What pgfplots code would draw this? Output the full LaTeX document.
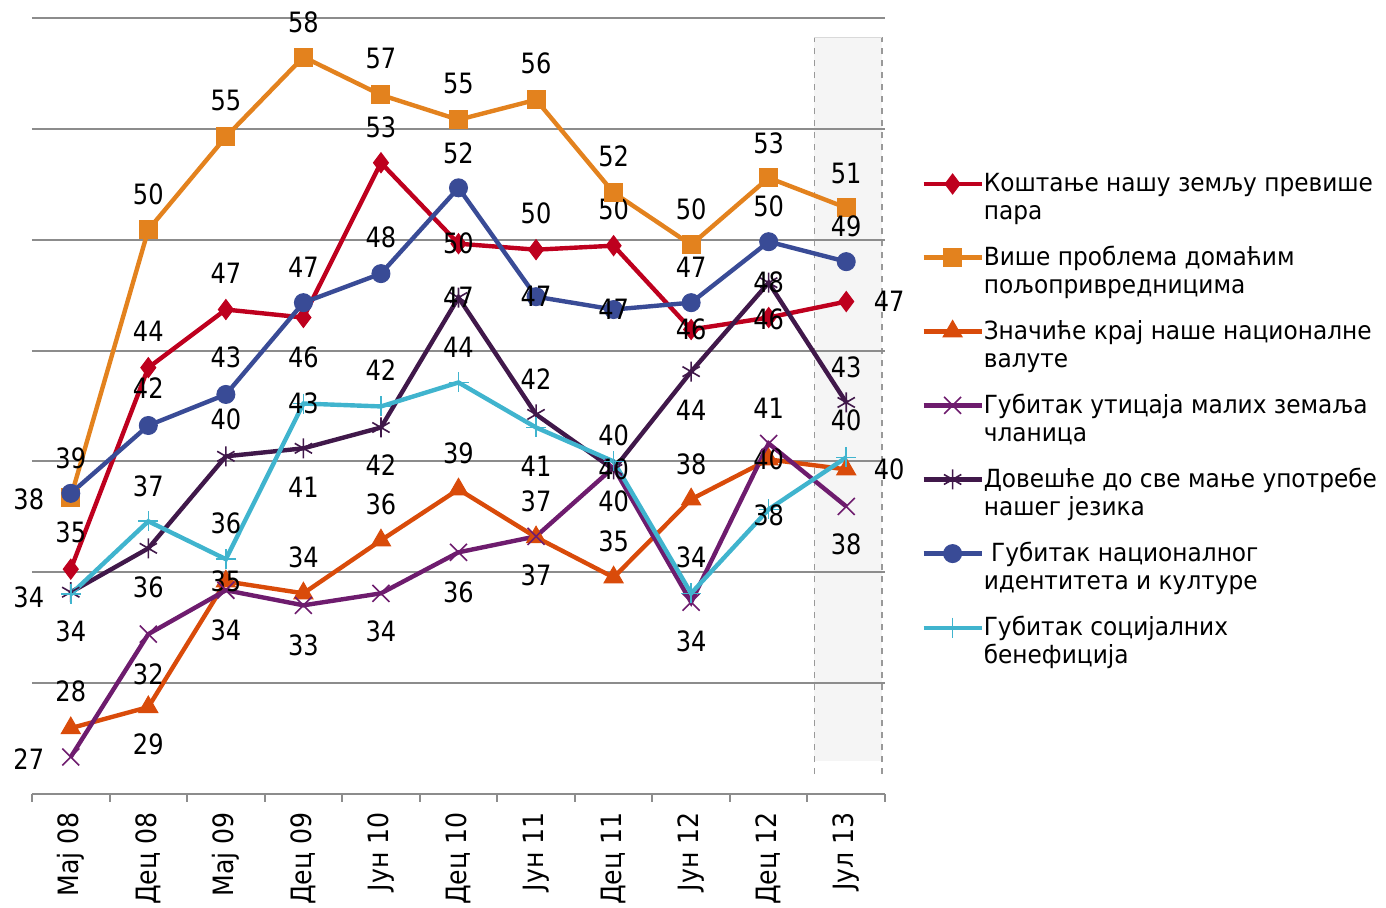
\documentclass[border=0pt]{standalone}
\usepackage{fontspec}
\setmainfont{DejaVu Sans}
\newfontfamily\labfont[FakeStretch=0.86]{DejaVu Sans}
\newfontfamily\tickfont[FakeStretch=0.9]{DejaVu Sans}
\newfontfamily\legfont[FakeStretch=0.93]{DejaVu Sans}
\usepackage{pgfplots}
\pgfplotsset{compat=1.18}

\definecolor{cRed}{RGB}{190,0,30}
\definecolor{cOrange}{RGB}{227,130,30}
\definecolor{cOrRed}{RGB}{217,75,10}
\definecolor{cPurple}{RGB}{110,28,110}
\definecolor{cDark}{RGB}{64,24,74}
\definecolor{cBlue}{RGB}{57,75,150}
\definecolor{cCyan}{RGB}{64,180,206}
\definecolor{gridc}{RGB}{140,140,140}

\begin{document}
\begin{tikzpicture}
\begin{axis}[
    set layers,
    scale only axis,
    width=426.5pt, height=388pt,
    xmin=-0.5, xmax=10.5,
    ymin=25, ymax=60,
    clip=false,
    axis x line*=bottom,
    axis y line*=left,
    y axis line style={draw=none},
    x axis line style={draw=gridc, line width=1pt},
    ytick={30,35,...,60},
    yticklabels={},
    ytick style={draw=none},
    ymajorgrids=true,
    grid style={draw=gridc, line width=1pt},
    xtick={0,...,10},
    xticklabels={Мај 08,Дец 08,Мај 09,Дец 09,Јун 10,Дец 10,Јун 11,Дец 11,Јун 12,Дец 12,Јул 13},
    minor xtick={-0.5,0.5,...,10.5},
    tick align=outside,
    major tick length=0pt,
    minor tick length=4pt,
    minor x tick style={draw=gridc, line width=1pt},
    xticklabel style={rotate=90, anchor=east, inner sep=0pt,
        font=\tickfont\fontsize{14}{16}\selectfont},
    xticklabel shift=9pt,
    every axis plot/.append style={line width=2.2pt},
    point meta=explicit symbolic,
    nodes near coords,
    visualization depends on={value \thisrow{dx}\as\dx},
    visualization depends on={value \thisrow{dy}\as\dy},
    nodes near coords style={font=\labfont\fontsize{14}{16}\selectfont,
        text=black, anchor=center, inner sep=0pt,
        xshift=\dx pt, yshift=\dy pt},
    legend style={draw=none, fill=none, inner sep=0pt,
        at={(axis description cs:1,1)}, anchor=north west,
        xshift=18pt, yshift=-75.5pt,
        font=\legfont\fontsize{12.5}{14}\selectfont,
        cells={align=left}, row sep=7.85pt, column sep=-2pt},
    legend cell align=left,
    legend image code/.code={
        \draw[mark repeat=2, mark phase=2]
        plot coordinates {(1pt,7pt) (15.5pt,7pt) (30pt,7pt)};},
]

\begin{pgfonlayer}{axis background}
\fill[gray!8] (axis cs:9.59,26.5) rectangle (axis cs:10.46,59.14);
\draw[gray!80, dashed, line width=0.8pt] (axis cs:9.59,25.9) -- (axis cs:9.59,59.14);
\draw[gray!80, dashed, line width=0.8pt] (axis cs:10.46,25.9) -- (axis cs:10.46,59.14);
\draw[gray!30, line width=0.5pt] (axis cs:9.59,59.14) -- (axis cs:10.46,59.14);
\end{pgfonlayer}

% Коштање нашу земљу превише пара
\addplot[color=cRed, mark=diamond*, mark size=5pt, mark options={solid, fill=cRed, line width=0.5pt}]
table[meta=l] {
x y l dx dy
0 35.14 35 0 18.5
1 44.23 44 0 18
2 46.85 47 0 18
3 46.49 46 0 -20
4 53.47 53 0 17.5
5 49.82 50 0 0
6 49.55 50 0 18
7 49.73 50 0 18
8 45.95 46 0 0
9 46.49 46 0 -1
10 47.21 47 21.5 0
};
\addlegendentry{Коштање нашу земљу превише\\пара}

% Више проблема домаћим пољопривредницима
\addplot[color=cOrange, mark=square*, mark size=4.5pt, mark options={solid, fill=cOrange, line width=0.5pt}]
table[meta=l] {
x y l dx dy
0 38.38 38 -21 -1
1 50.45 50 0 17.5
2 54.64 55 0 18
3 58.24 58 0 17.5
4 56.53 57 0 18
5 55.41 55 0 18
6 56.31 56 0 18
7 52.12 52 0 18
8 49.77 50 0 17.5
9 52.79 53 0 17.5
10 51.44 51 0 17
};
\addlegendentry{Више проблема домаћим\\пољопривредницима}

% Значиће крај наше националне валуте
\addplot[color=cOrRed, mark=triangle*, mark size=5.5pt, mark options={solid, fill=cOrRed, line width=0.5pt}]
table[meta=l] {
x y l dx dy
0 27.97 28 0 18.5
1 28.92 29 0 -18.5
2 34.59 35 0 0
3 34.05 34 0 18
4 36.44 36 0 18
5 38.74 39 0 18
6 36.58 37 0 18
7 34.77 35 0 18
8 38.29 38 0 17.5
9 40.09 40 0 0
10 39.64 40 21.5 0
};
\addlegendentry{Значиће крај наше националне\\валуте}

% Губитак утицаја малих земаља чланица
\addplot[color=cPurple, mark=x, mark size=6pt, mark options={solid, line width=0.8pt}]
table[meta=l] {
x y l dx dy
0 26.67 27 -21 -1
1 32.21 32 0 -20
2 34.19 34 0 -20
3 33.51 33 0 -20
4 34.05 34 0 -19
5 35.90 36 0 -20
6 36.62 37 0 -19.5
7 39.73 40 0 -17
8 33.65 34 0 -19.5
9 40.81 41 0 17.5
10 37.97 38 0 -19
};
\addlegendentry{Губитак утицаја малих земаља\\чланица}

% Довешће до све мање употребе нашег језика
\addplot[color=cDark, mark=asterisk, mark size=5pt, mark options={solid, line width=0.8pt}]
table[meta=l] {
x y l dx dy
0 34.10 34 -21 -2.5
1 36.08 36 0 -19.5
2 40.23 40 0 18.5
3 40.59 41 0 -19.5
4 41.53 42 0 -19
5 47.39 47 0 0
6 42.12 42 0 17.5
7 39.64 40 0 0
8 44.05 44 0 -19.5
9 48.06 48 0 0
10 42.66 43 0 17.5
};
\addlegendentry{Довешће до све мање употребе\\нашег језика}

% Губитак националног идентитета и културе
\addplot[color=cBlue, mark=*, mark size=4.5pt, mark options={solid, fill=cBlue, line width=0.5pt}]
table[meta=l] {
x y l dx dy
0 38.56 39 0 17.5
1 41.62 42 0 18.5
2 43.02 43 0 18.5
3 47.16 47 0 17.5
4 48.47 48 0 18
5 52.34 52 0 17.5
6 47.43 47 0 0
7 46.85 47 0 0
8 47.16 47 0 17.5
9 49.91 50 0 17.5
10 49.01 49 0 17.5
};
\addlegendentry{\ Губитак националног\\идентитета и културе}

% Губитак социјалних бенефиција
\addplot[color=cCyan, mark=+, mark size=5pt, mark options={solid, line width=0.8pt}]
table[meta=l] {
x y l dx dy
0 34.01 34 0 -18.5
1 37.30 37 0 17.5
2 35.59 36 0 18
3 42.61 43 0 0
4 42.48 42 0 18
5 43.56 44 0 17.5
6 41.53 41 0 -19.5
7 40.00 40 0 13
8 34.05 34 0 18
9 37.84 38 0 -3
10 40.18 40 0 18.5
};
\addlegendentry{Губитак социјалних\\бенефиција}

\end{axis}
\pgfresetboundingbox
\path (-16pt,-57pt) rectangle (677pt,397pt);
\end{tikzpicture}
\end{document}
